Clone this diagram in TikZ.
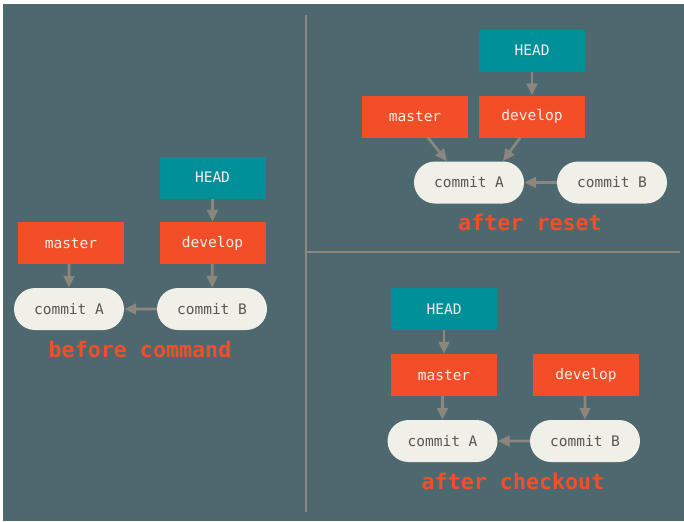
\documentclass[tikz,border=0pt]{standalone}
\usepackage{fontspec}
\setmonofont{DejaVu Sans Mono}
\usetikzlibrary{arrows.meta,shapes.misc,calc}

\definecolor{slate}{HTML}{4E6870}
\definecolor{branchred}{HTML}{F24F28}
\definecolor{headteal}{HTML}{00909A}
\definecolor{commitfill}{HTML}{F0EFE8}
\definecolor{commitink}{HTML}{5A5651}
\definecolor{arrowgray}{HTML}{8C867E}

\begin{document}
\begin{tikzpicture}[
    x=0.03cm, y=-0.03cm,
    ref/.style={minimum width=3.18cm, minimum height=1.26cm, inner sep=0pt,
        font=\ttfamily\fontsize{12.4}{14}\selectfont, text=commitfill},
    branch/.style={ref, fill=branchred},
    head/.style={ref, fill=headteal},
    commit/.style={rounded rectangle, fill=commitfill, text=commitink, minimum width=3.3cm,
        minimum height=1.26cm, inner sep=0pt, font=\ttfamily\fontsize{12.4}{14}\selectfont},
    caption/.style={font=\ttfamily\bfseries\fontsize{18.5}{20}\selectfont, text=branchred},
    arr/.style={-{Triangle[length=0.36cm,width=0.32cm]}, line width=2.3pt, arrowgray},
    sep/.style={line width=2.4pt, arrowgray}
]
\fill[white] (0,0) rectangle (684,521);
\fill[slate] (3,4) rectangle (684,521);
\useasboundingbox (0,0) rectangle (684,521);

% separators
\draw[sep] (306,15) -- (306,512);
\draw[sep] (306,252) -- (680,252);

% before command
\node[head] (head1) at (212.5,177.5) {HEAD};
\node[branch] (develop1) at (212.5,243) {develop};
\node[branch] (master1) at (71,243) {master};
\node[commit] (a1) at (69,309) {commit A};
\node[commit] (b1) at (212,309) {commit B};
\node[caption] (cap1) at (140,349) {before command};

\draw[arr] (head1) -- (develop1);
\draw[arr] (develop1) -- (b1);
\draw[arr] (master1.south -| a1) -- (a1);
\draw[arr] (b1) -- (a1);

% after reset
\node[head] (head2) at (532,50.5) {HEAD};
\node[branch] (master2) at (415,116.5) {master};
\node[branch] (develop2) at (532,116.5) {develop};
\node[commit] (a2) at (469,182.5) {commit A};
\node[commit] (b2) at (612,182.5) {commit B};
\node[caption] (cap2) at (530,222) {after reset};

\draw[arr] (head2) -- (develop2);
\draw[arr] ($(master2.south)+(13,0)$) -- ($(a2.north)+(-22,0)$);
\draw[arr] ($(develop2.south)+(-12,0)$) -- ($(a2.north)+(34,0)$);
\draw[arr] (b2) -- (a2);

% after checkout
\node[head] (head3) at (444,309) {HEAD};
\node[branch] (master3) at (444,375) {master};
\node[branch] (develop3) at (586,375) {develop};
\node[commit] (a3) at (442.5,441) {commit A};
\node[commit] (b3) at (585,441) {commit B};
\node[caption] (cap3) at (513,481) {after checkout};

\draw[arr] (head3) -- (master3);
\draw[arr] (master3.south -| a3) -- (a3);
\draw[arr] (develop3.south -| b3) -- (b3);
\draw[arr] (b3) -- (a3);
\end{tikzpicture}
\end{document}
